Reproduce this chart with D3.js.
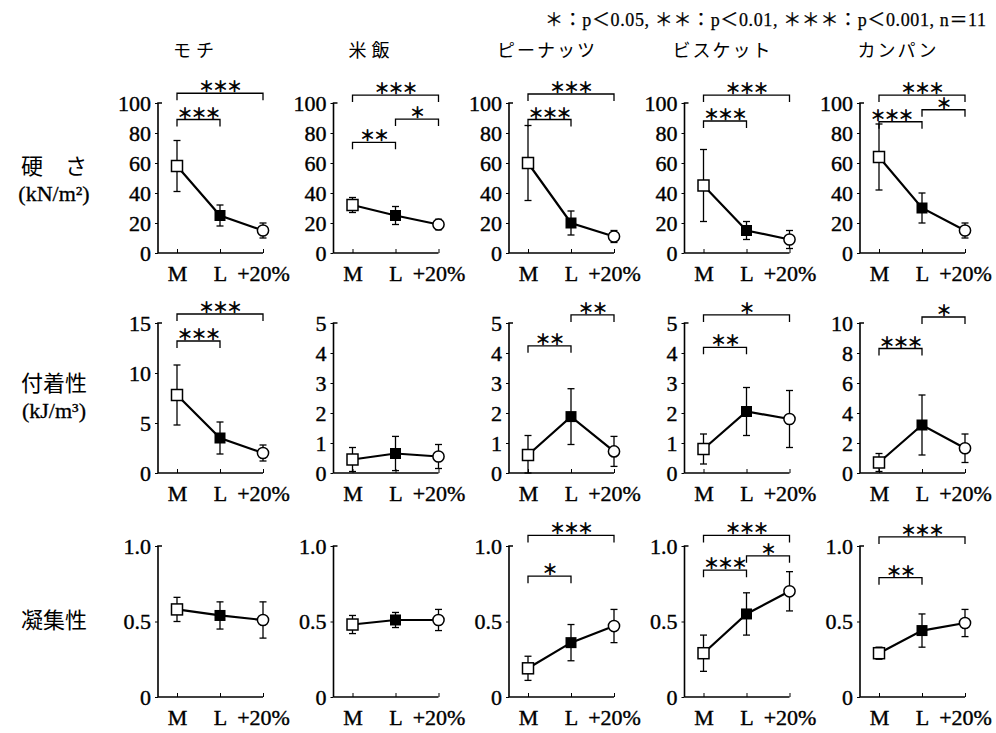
<!DOCTYPE html>
<html><head><meta charset="utf-8">
<script src="https://cdn.jsdelivr.net/npm/d3@7"></script>
<style>body{margin:0;background:#fff}</style>
</head><body><svg id="c" width="996" height="733"></svg>
<script>
// ---------------- DATA ----------------
const foods = ["モチ", "米飯", "ピーナッツ", "ビスケット", "カンパン"];
const conditions = ["M", "L", "+20%"];
const rowTitles = [["硬　さ", "(kN/m²)"], ["付着性", "(kJ/m³)"], ["凝集性", ""]];
const legendItems = ["＊：p＜0.05,", "＊＊：p＜0.01,", "＊＊＊：p＜0.001,", "n＝11"];

// hardness (kN/m2): mean and SD per food, order [M, L, +20%]
const hardnessMean = [[58, 25, 15], [32, 25, 19], [60, 20, 11], [45, 15, 9], [64, 30, 15]];
const hardnessSD   = [[17, 7, 5], [5, 6, 3.5], [25, 8, 4], [24, 6, 6], [22, 10, 5]];
// adhesiveness (kJ/m3)
const adhesMean = [[7.8, 3.5, 2.0], [0.45, 0.65, 0.55], [0.6, 1.88, 0.72], [0.8, 2.05, 1.8], [0.7, 3.2, 1.65]];
const adhesSD   = [[3.0, 1.6, 0.8], [0.4, 0.57, 0.4], [0.65, 0.93, 0.5], [0.5, 0.8, 0.95], [0.6, 2.0, 0.95]];
// cohesiveness
const cohesMean = [[0.58, 0.54, 0.51], [0.48, 0.51, 0.51], [0.19, 0.36, 0.47], [0.29, 0.55, 0.70], [0.29, 0.44, 0.49]];
const cohesSD   = [[0.08, 0.09, 0.12], [0.06, 0.05, 0.07], [0.08, 0.12, 0.11], [0.12, 0.14, 0.13], [0.04, 0.11, 0.09]];

// axis maxima and ticks
const hardnessMax = [100, 100, 100, 100, 100];
const adhesMax = [15, 5, 5, 5, 10];
const cohesMax = [1, 1, 1, 1, 1];
const hardnessTicks = [[0,20,40,60,80,100],[0,20,40,60,80,100],[0,20,40,60,80,100],[0,20,40,60,80,100],[0,20,40,60,80,100]];
const adhesTicks = [[0,5,10,15],[0,1,2,3,4,5],[0,1,2,3,4,5],[0,1,2,3,4,5],[0,2,4,6,8,10]];
const cohesTicks = [[0,0.5,1],[0,0.5,1],[0,0.5,1],[0,0.5,1],[0,0.5,1]];

// significance brackets: [food, from, to, label, level in data units]
const hardnessSig = [
  [0, "M", "+20%", "＊＊＊", 106.5], [0, "M", "L", "＊＊＊", 89],
  [1, "M", "+20%", "＊＊＊", 105.3], [1, "M", "L", "＊＊", 73.8], [1, "L", "+20%", "＊", 89.3],
  [2, "M", "+20%", "＊＊＊", 106], [2, "M", "L", "＊＊＊", 89],
  [3, "M", "+20%", "＊＊＊", 105.3], [3, "M", "L", "＊＊＊", 88],
  [4, "M", "+20%", "＊＊＊", 105.3], [4, "L", "+20%", "＊", 95.5], [4, "M", "L", "＊＊＊", 87.5]
];
const adhesSig = [
  [0, "M", "+20%", "＊＊＊", 15.9], [0, "M", "L", "＊＊＊", 13.2],
  [2, "M", "L", "＊＊", 4.24], [2, "L", "+20%", "＊＊", 5.27],
  [3, "M", "+20%", "＊", 5.27], [3, "M", "L", "＊＊", 4.19],
  [4, "M", "L", "＊＊＊", 8.3], [4, "L", "+20%", "＊", 10.4]
];
const cohesSig = [
  [2, "M", "+20%", "＊＊＊", 1.07], [2, "M", "L", "＊", 0.80],
  [3, "M", "+20%", "＊＊＊", 1.07], [3, "L", "+20%", "＊", 0.935], [3, "M", "L", "＊＊＊", 0.84],
  [4, "M", "+20%", "＊＊＊", 1.06], [4, "M", "L", "＊＊", 0.79]
];

// ---------------- LAYOUT ----------------
const svg = d3.select("#c");
const serif = "'Liberation Serif','DejaVu Serif',serif";
const cjk = "'Noto Sans CJK JP','Noto Sans CJK SC',sans-serif";
// label nudges (px) for crowded brackets: key "row-food-from-to"
const sigLabelDx = {"0-4-M-L": -9};

const rows = [
  {mean: hardnessMean, sd: hardnessSD, max: hardnessMax, ticks: hardnessTicks, sig: hardnessSig, y0: 253, y1: 103},
  {mean: adhesMean, sd: adhesSD, max: adhesMax, ticks: adhesTicks, sig: adhesSig, y0: 473, y1: 323},
  {mean: cohesMean, sd: cohesSD, max: cohesMax, ticks: cohesTicks, sig: cohesSig, y0: 697, y1: 546}
];
const colX = d3.scaleLinear().domain([0, 4]).range([158, 860]);

// legend
const lg = svg.append("text").attr("x", 986).attr("y", 26).attr("text-anchor", "end")
  .attr("font-family", serif + "," + cjk).attr("font-size", 18)
  .attr("stroke", "#000").attr("stroke-width", 0.25)
  .attr("textLength", 441).attr("lengthAdjust", "spacing");
lg.selectAll("tspan").data(legendItems).enter().append("tspan")
  .text((d, k) => (k ? "  " : "") + d);

// food titles
foods.forEach((f, i) => {
  svg.append("text").attr("x", colX(i) + 38).attr("y", 57).attr("text-anchor", "middle")
    .attr("font-family", cjk).attr("font-size", 18).attr("letter-spacing", f.length > 2 ? 2 : 5)
    .text(f);
});

// row titles
const rowTitleY = [[174, 201], [391, 418], [628, 0]];
rowTitles.forEach((t, r) => {
  svg.append("text").attr("x", 54).attr("y", rowTitleY[r][0]).attr("text-anchor", "middle")
    .attr("font-family", cjk).attr("font-size", 22).text(t[0]);
  if (t[1]) svg.append("text").attr("x", 54).attr("y", rowTitleY[r][1]).attr("text-anchor", "middle")
    .attr("font-family", serif).attr("font-size", 22)
    .attr("stroke", "#000").attr("stroke-width", 0.3).text(t[1]);
});

rows.forEach((row, r) => {
  foods.forEach((f, i) => {
    const ax = colX(i);
    const x = d3.scalePoint().domain(conditions).range([ax + 19, ax + 105]);
    const y = d3.scaleLinear().domain([0, row.max[i]]).range([row.y0, row.y1]);
    const g = svg.append("g");

    // y axis
    const yAxis = d3.axisLeft(y).tickValues(row.ticks[i]).tickSize(3).tickPadding(4)
      .tickFormat(d => d === 0 ? "0" : (row.max[i] === 1 ? d3.format(".1f")(d) : d));
    const ya = g.append("g").attr("transform", `translate(${ax},0)`).call(yAxis);
    ya.select(".domain").attr("d", `M0,${row.y0}V${row.y1}h4`).attr("stroke-width", 1.6);
    ya.selectAll("text").attr("font-family", serif).attr("font-size", 22).attr("fill", "#000")
      .attr("stroke", "#000").attr("stroke-width", 0.4);
    ya.selectAll("line").attr("stroke-width", 1);

    // x axis
    const xa = g.append("g").attr("transform", `translate(0,${row.y0})`)
      .call(d3.axisBottom(x).tickSize(0).tickPadding(9));
    xa.select(".domain").attr("d", `M${ax},0H${ax + 105}`).attr("stroke-width", 1.6);
    xa.selectAll("text").attr("font-family", serif).attr("font-size", 22).attr("fill", "#000")
      .attr("stroke", "#000").attr("stroke-width", 0.4).attr("dy", "0.85em");
    xa.selectAll(".tick").append("line").attr("y1", 0).attr("y2", -4).attr("stroke", "#000");

    const data = conditions.map((c, k) => ({c, m: row.mean[i][k], s: row.sd[i][k]}));

    // error bars
    const eb = g.selectAll(".eb").data(data).enter().append("g");
    eb.append("line").attr("x1", d => x(d.c)).attr("x2", d => x(d.c))
      .attr("y1", d => y(d.m + d.s)).attr("y2", d => y(Math.max(0, d.m - d.s)))
      .attr("stroke", "#000").attr("stroke-width", 1.3);
    [1, -1].forEach(sgn => {
      eb.append("line").attr("x1", d => x(d.c) - 3.5).attr("x2", d => x(d.c) + 3.5)
        .attr("y1", d => y(Math.max(0, d.m + sgn * d.s))).attr("y2", d => y(Math.max(0, d.m + sgn * d.s)))
        .attr("stroke", "#000").attr("stroke-width", 1.3);
    });

    // mean line
    g.append("path").datum(data)
      .attr("d", d3.line().x(d => x(d.c)).y(d => y(d.m)))
      .attr("fill", "none").attr("stroke", "#000").attr("stroke-width", 2.2);

    // markers
    data.forEach(d => {
      if (d.c === "M") {
        g.append("rect").attr("x", x(d.c) - 5.5).attr("y", y(d.m) - 5.5).attr("width", 11).attr("height", 11)
          .attr("fill", "#fff").attr("stroke", "#000").attr("stroke-width", 1.5);
      } else if (d.c === "L") {
        g.append("rect").attr("x", x(d.c) - 5.5).attr("y", y(d.m) - 5.5).attr("width", 11).attr("height", 11)
          .attr("fill", "#000");
      } else {
        g.append("circle").attr("cx", x(d.c)).attr("cy", y(d.m)).attr("r", 5.6)
          .attr("fill", "#fff").attr("stroke", "#000").attr("stroke-width", 1.5);
      }
    });

    // significance brackets
    row.sig.filter(s => s[0] === i).forEach(s => {
      const x1 = x(s[1]), x2 = x(s[2]), yy = y(s[4]);
      const dx = sigLabelDx[`${r}-${i}-${s[1]}-${s[2]}`] || 0;
      g.append("path").attr("d", `M${x1},${yy + 7}V${yy}H${x2}V${yy + 7}`)
        .attr("fill", "none").attr("stroke", "#000").attr("stroke-width", 1.3);
      g.append("text").attr("x", (x1 + x2) / 2 + dx).attr("y", yy - 1).attr("text-anchor", "middle")
        .attr("font-family", cjk).attr("font-size", 15).attr("letter-spacing", -1)
        .attr("fill", "#000").attr("stroke", "#000").attr("stroke-width", 0.7).text(s[3]);
    });
  });
});
</script></body></html>
